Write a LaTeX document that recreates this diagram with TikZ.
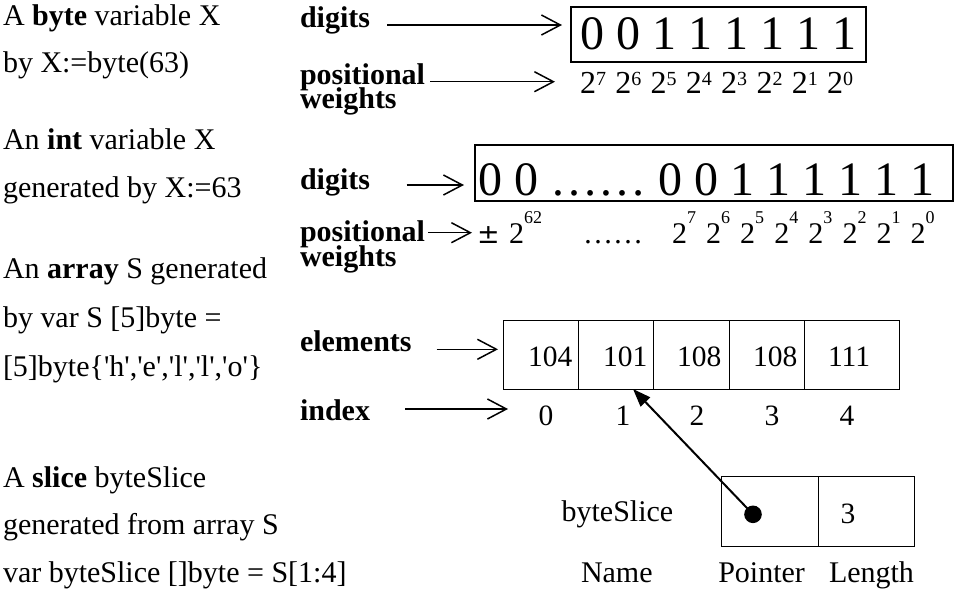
\documentclass[tikz,border=0pt]{standalone}
\usepackage{fontspec}
\setmainfont{Liberation Serif}[Ligatures=TeXOff]
\newfontfamily\symfont{DejaVu Sans}
\usetikzlibrary{arrows.meta}
\begin{document}
\begin{tikzpicture}[x=1pt,y=-1pt,
  every node/.style={inner sep=0pt, outer sep=0pt},
  txt/.style={anchor=base west, font=\fontsize{30}{36}\selectfont},
  lbl/.style={anchor=base west, font=\fontsize{30}{36}\selectfont\bfseries},
  lbltop/.style={lbl, text depth=2pt},
  lblbot/.style={lbl, text height=16pt},
  bigdig/.style={anchor=base west, font=\fontsize{48}{58}\selectfont},
  val/.style={anchor=base west, font=\fontsize{29.5}{35}\selectfont},
  idx/.style={anchor=base, font=\fontsize{29.5}{35}\selectfont},
  frame/.style={draw, line width=2pt, anchor=north west},
  cell/.style={draw, line width=1pt, anchor=north west, minimum height=69pt},
  scell/.style={draw, line width=1pt, anchor=north west, minimum height=69.3pt},
  arr/.style={line width=1.5pt, -{Straight Barb[length=19pt,width=20pt]}},
  ptr/.style={line width=2pt, -{Triangle[length=18pt,width=13pt]}},
]
\useasboundingbox (0,0) rectangle (954,595);

% ---- left-hand descriptions
\node[txt] (l1) at (3,25) {A \textbf{byte} variable X};
\node[txt] (l2) at (3,72.5) {by X:=byte(63)};
\node[txt] (l3) at (3,149.5) {An \textbf{int} variable X};
\node[txt] (l4) at (3,197) {generated by X:=63};
\node[txt] (l5) at (3,278) {An \textbf{array} S generated};
\node[txt] (l6) at (3,327) {by var S [5]byte =};
\node[txt] (l7) at (3,376) {[5]byte\{'h','e','l','l','o'\}};
\node[txt] (l8) at (3,487) {A \textbf{slice} byteSlice};
\node[txt] (l9) at (3,534.5) {generated from array S};
\node[txt] (l10) at (3,582) {var byteSlice []byte = S[1:4]};

% ---- byte variable
\node[lbl] (bdig) at (300,27) {digits};
\node[lbltop] (bpos) at (300,84) {positional};
\node[lblbot] (bwei) at (300,108.5) {weights};
\node[frame, minimum width=295pt, minimum height=55pt] (bytebox) at (571,7) {};
\node[bigdig] (bytedigits) at (580,49.3) {0 0 1 1 1 1 1 1};
\foreach \e [count=\i from 0] in {7,6,5,4,3,2,1,0} {
  \node[anchor=base west, font=\fontsize{32}{38}\selectfont] (bw\i) at ({580+35.3*\i},93.3)
    {2\raisebox{8.3pt}{\fontsize{20}{24}\selectfont\e}};
}
\coordinate (bdA) at (387,25);
\draw[arr, shorten >=9pt] (bdA) -- (bdA -| bytebox.west);
\coordinate (bpA) at (430,81.7);
\draw[arr, shorten >=25pt] (bpA) -- (bpA -| bw0.west);

% ---- int variable
\node[lbl] (idig) at (300,189.3) {digits};
\node[lbltop] (ipos) at (300,241.7) {positional};
\node[lblbot] (iwei) at (300,266.7) {weights};
\node[frame, minimum width=478pt, minimum height=56pt] (intbox) at (475,145) {};
\node[bigdig] (intdigits) at (478,195.7) {0 0 …… 0 0 1 1 1 1 1 1};
\node[anchor=base west, font=\symfont\fontsize{27}{32}\selectfont] (pm) at (477,243.3) {±};
\node[anchor=base west, font=\fontsize{30}{36}\selectfont] (iw62) at (509,243.3)
  {2\raisebox{20pt}{\fontsize{18}{20}\selectfont 62}};
\node[anchor=base west, font=\fontsize{30}{36}\selectfont] (idots) at (583,243.3) {……};
\foreach \e [count=\i from 0] in {7,6,5,4,3,2,1,0} {
  \node[anchor=base west, font=\fontsize{30}{36}\selectfont] (iw\i) at ({672+34.1*\i},243.3)
    {2\raisebox{20pt}{\fontsize{18}{20}\selectfont\e}};
}
\coordinate (idA) at (406.7,185);
\draw[arr, shorten >=11pt] (idA) -- (idA -| intbox.west);
\coordinate (ipA) at (428.3,232.7);
\draw[arr, shorten >=5pt] (ipA) -- (ipA -| pm.west);

% ---- array
\node[lbl] (elem) at (300,351.7) {elements};
\node[lbl] (index) at (300,420) {index};
\node[cell, minimum width=75pt] (c0) at (503,320) {};
\node[cell, minimum width=75pt] (c1) at (c0.north east) {};
\node[cell, minimum width=76pt] (c2) at (c1.north east) {};
\node[cell, minimum width=75pt] (c3) at (c2.north east) {};
\node[cell, minimum width=95pt] (c4) at (c3.north east) {};
\node[val] (v0) at (528,366) {104};
\node[val] (v1) at (603,366) {101};
\node[val] (v2) at (677,366) {108};
\node[val] (v3) at (753,366) {108};
\node[val] (v4) at (828,366) {111};
\node[idx] (i0) at (546,425) {0};
\node[idx] (i1) at (623,425) {1};
\node[idx] (i2) at (697,425) {2};
\node[idx] (i3) at (772,425) {3};
\node[idx] (i4) at (847,425) {4};
\coordinate (elA) at (436.5,349.3);
\draw[arr, shorten >=5pt] (elA) -- (elA -| c0.west);
\coordinate (ixA) at (405,409);
\draw[arr, shorten >=30.6pt] (ixA) -- (ixA -| i0.west);

% ---- slice header
\node[txt] (sname) at (561.6,521.7) {byteSlice};
\node[scell, minimum width=97pt] (sp) at (721,476.7) {};
\node[scell, minimum width=96.7pt] (sl) at (sp.north east) {};
\node[idx] (slen) at (848,523.3) {3};
\node[txt] (hname) at (581,582) {Name};
\node[txt] (hptr) at (718.3,582) {Pointer};
\node[txt] (hlen) at (829,582) {Length};
\node[circle, fill, minimum size=17.6pt] (dot) at (753,514.3) {};
\draw[ptr] (dot.center) -- ([xshift=17.5pt]c1.south);
\end{tikzpicture}
\end{document}
